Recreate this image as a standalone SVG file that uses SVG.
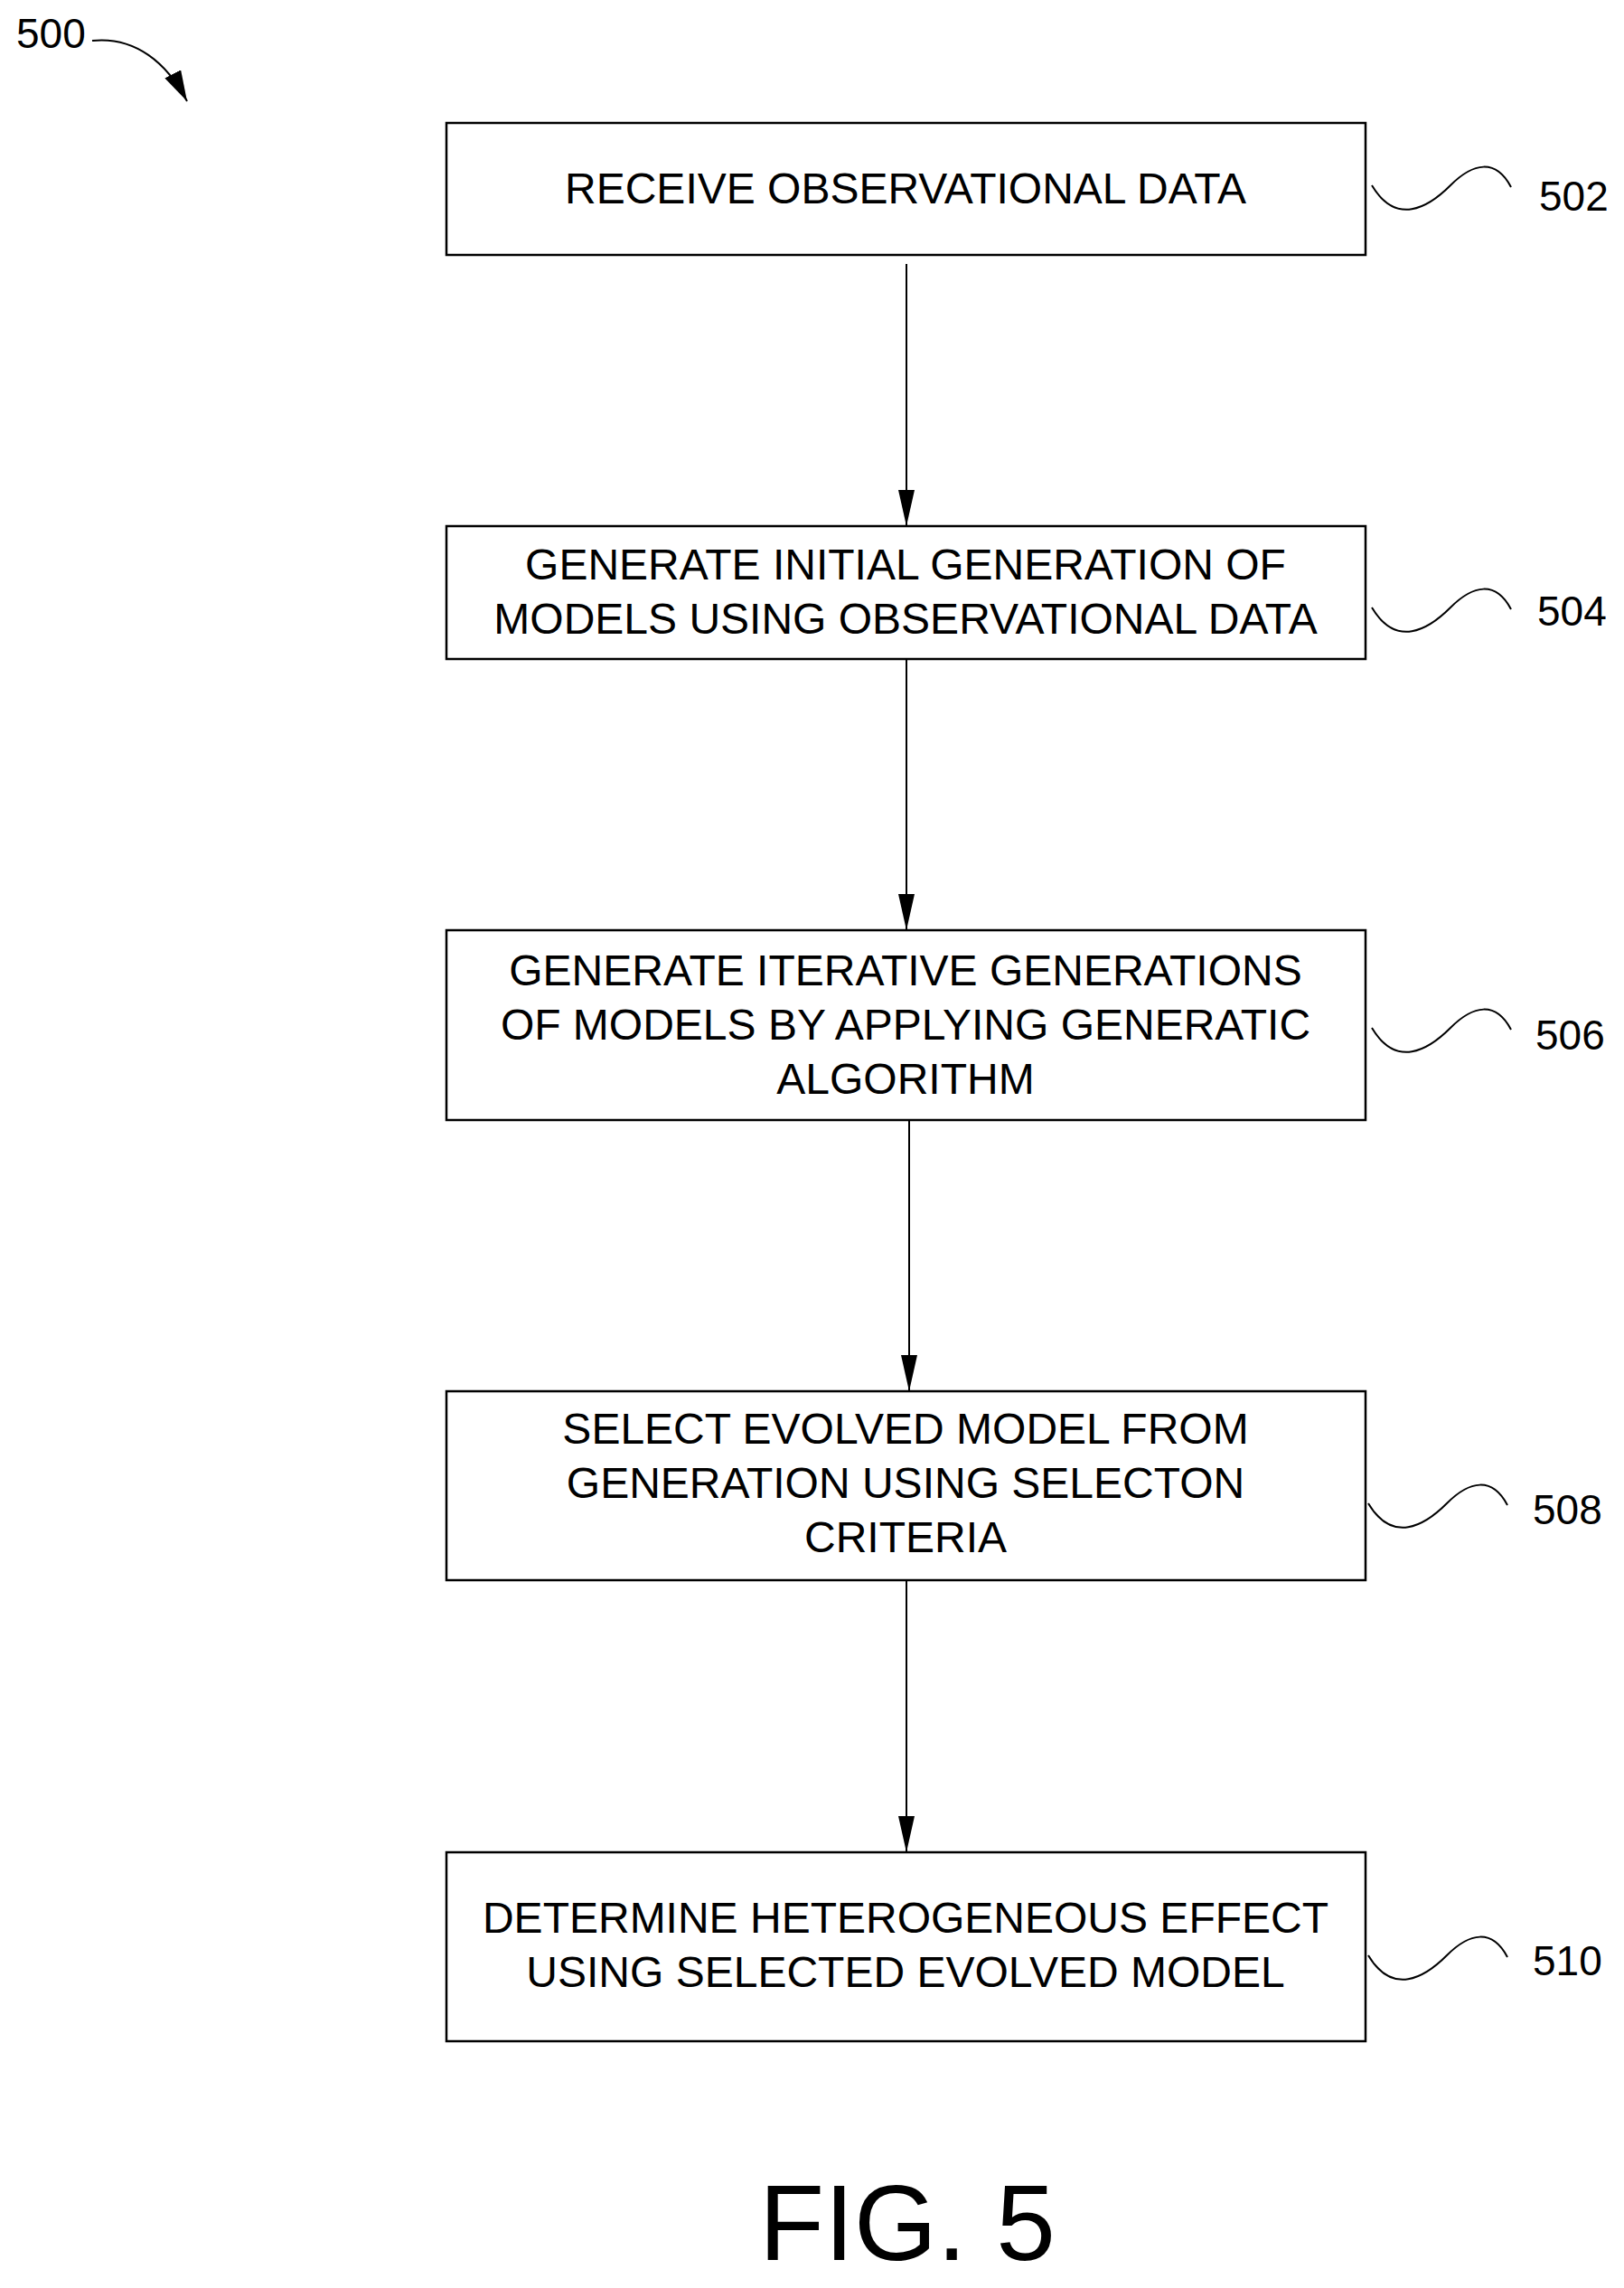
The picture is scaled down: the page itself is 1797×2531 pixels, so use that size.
<svg xmlns="http://www.w3.org/2000/svg" width="1797" height="2531" viewBox="0 0 1797 2531">
<style>
.box{fill:#fff;stroke:#000;stroke-width:2.5}
.t{font-family:"Liberation Sans",Arial,sans-serif;font-size:48px;text-anchor:middle;fill:#000}
.n{font-family:"Liberation Sans",Arial,sans-serif;font-size:46px;fill:#000}
.c{fill:none;stroke:#000;stroke-width:2}
</style>
<defs><marker id="a" markerWidth="18" markerHeight="40" refX="9" refY="40" orient="0" markerUnits="userSpaceOnUse"><path d="M0,0 L18,0 L9,40 Z"/></marker>
<marker id="b" markerWidth="34" markerHeight="20" refX="34" refY="10" orient="auto" markerUnits="userSpaceOnUse"><path d="M0,0 L34,10 L0,20 Z"/></marker></defs>
<rect width="1797" height="2531" fill="#fff"/>
<g id="n502"><rect class="box" x="494" y="136" width="1017" height="146"/><text class="t" x="1002" y="225">RECEIVE OBSERVATIONAL DATA</text></g>
<g id="n504"><rect class="box" x="494" y="582" width="1017" height="147"/><text class="t" x="1002" y="641">GENERATE INITIAL GENERATION OF</text><text class="t" x="1002" y="701">MODELS USING OBSERVATIONAL DATA</text></g>
<g id="n506"><rect class="box" x="494" y="1029" width="1017" height="210"/><text class="t" x="1002" y="1090">GENERATE ITERATIVE GENERATIONS</text><text class="t" x="1002" y="1150">OF MODELS BY APPLYING GENERATIC</text><text class="t" x="1002" y="1210">ALGORITHM</text></g>
<g id="n508"><rect class="box" x="494" y="1539" width="1017" height="209"/><text class="t" x="1002" y="1597">SELECT EVOLVED MODEL FROM</text><text class="t" x="1002" y="1657">GENERATION USING SELECTON</text><text class="t" x="1002" y="1717">CRITERIA</text></g>
<g id="n510"><rect class="box" x="494" y="2049" width="1017" height="209"/><text class="t" x="1002" y="2138">DETERMINE HETEROGENEOUS EFFECT</text><text class="t" x="1002" y="2198">USING SELECTED EVOLVED MODEL</text></g>
<g id="refs">
<path class="c" d="M1518,205 C1545,250 1580,230 1605,205 S1655,175 1672,207"/><text class="n" x="1703" y="233">502</text>
<path class="c" d="M1518,672 C1545,717 1580,697 1605,672 S1655,642 1672,674"/><text class="n" x="1701" y="692">504</text>
<path class="c" d="M1518,1137 C1545,1182 1580,1162 1605,1137 S1655,1107 1672,1139"/><text class="n" x="1699" y="1161">506</text>
<path class="c" d="M1514,1663 C1541,1708 1576,1688 1601,1663 S1651,1633 1668,1665"/><text class="n" x="1696" y="1686">508</text>
<path class="c" d="M1514,2163 C1541,2208 1576,2188 1601,2163 S1651,2133 1668,2165"/><text class="n" x="1696" y="2185">510</text>
<text class="n" x="18" y="53">500</text>
<path class="c" d="M102,45 C150,40 185,70 207,112" marker-end="url(#b)"/>
</g>
<g id="connectors">
<line class="c" x1="1003" y1="292" x2="1003" y2="582" marker-end="url(#a)"/>
<line class="c" x1="1003" y1="729" x2="1003" y2="1029" marker-end="url(#a)"/>
<line class="c" x1="1006" y1="1239" x2="1006" y2="1539" marker-end="url(#a)"/>
<line class="c" x1="1003" y1="1748" x2="1003" y2="2049" marker-end="url(#a)"/>
</g>
<text class="t" x="1004" y="2500" style="font-size:118px">FIG. 5</text>
</svg>
